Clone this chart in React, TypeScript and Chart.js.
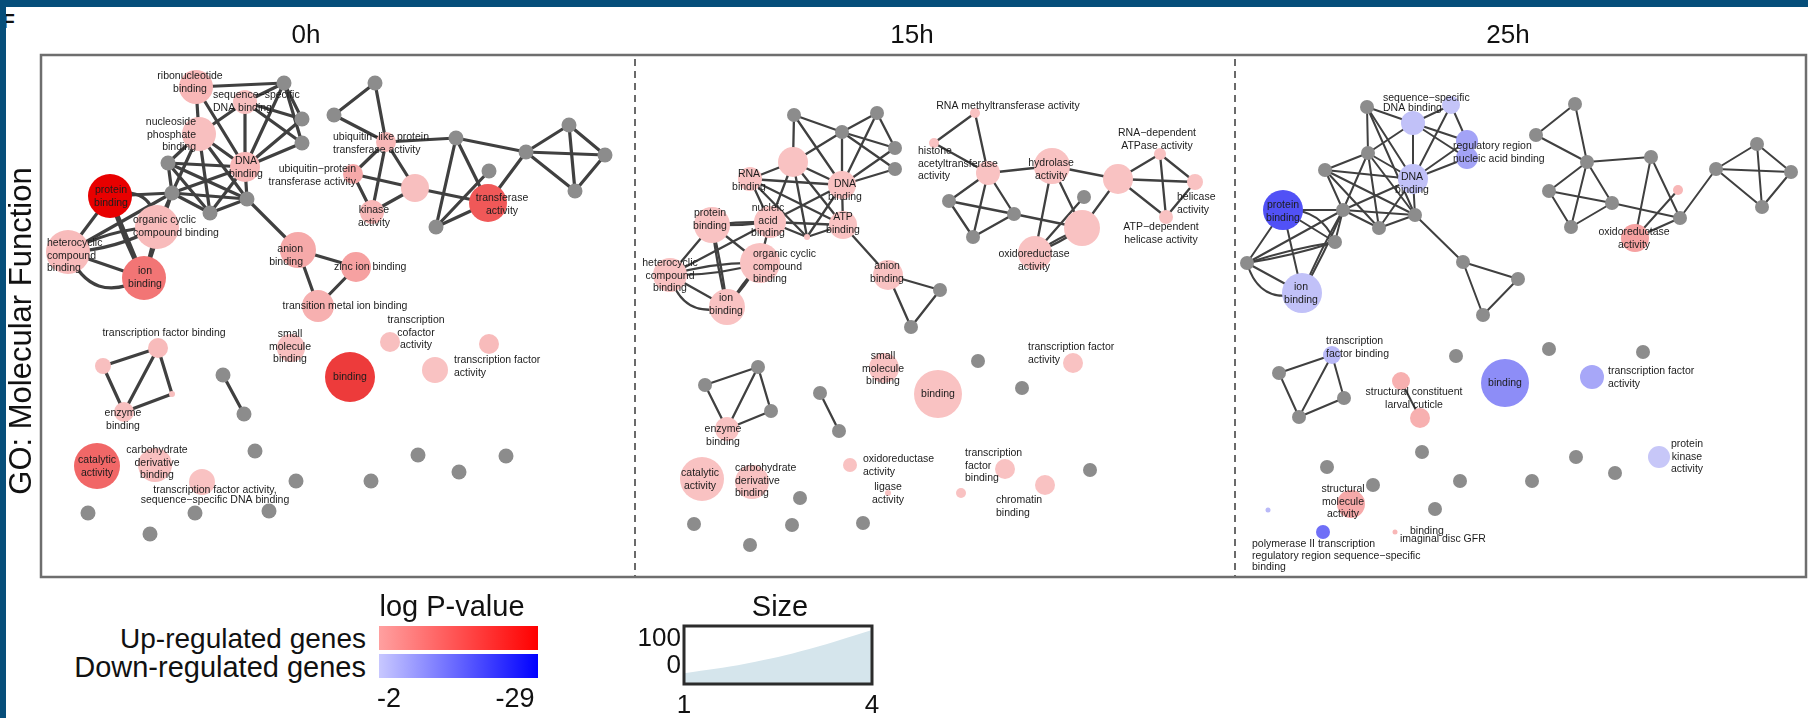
import { useEffect, useRef } from "react";
import { Chart, registerables } from "chart.js";

Chart.register(...registerables);

// ---------------------------------------------------------------------------
// GO: Molecular Function enrichment networks at three time points.
// Node: [id, layout x, layout y, radius (size), signed log P-value]
//   log P > 0 : enriched in up-regulated genes (red scale)
//   log P < 0 : enriched in down-regulated genes (blue scale)
//   log P = 0 : term not enriched at this time point (grey)
// Edge: [from, to, bend]   Label: [x, y, text, align, line height]
// ---------------------------------------------------------------------------

const timePoints = ["0h", "15h", "25h"];

const nodes0h: [string, number, number, number, number][] = [
  ["ribo", 196, 87, 17, 4], ["seq", 245, 102, 12, 3], ["g1", 284, 83, 7.5, 0],
  ["g2", 302, 119, 7.5, 0], ["g3", 302, 143, 7.5, 0], ["nuc", 199, 134, 17, 3],
  ["dna", 245, 167, 15, 4], ["g4", 168, 163, 7.5, 0], ["g5", 172, 193, 7.5, 0],
  ["g6", 210, 213, 7.5, 0], ["g7", 247, 199, 7.5, 0], ["prot", 110, 196, 22, 29],
  ["org", 157, 227, 22, 3.5], ["het", 68, 252, 22, 3.5], ["ion", 144, 278, 22, 13],
  ["anion", 298, 250, 18, 6], ["zinc", 356, 267, 15, 7], ["trans", 318, 306, 16, 5],
  ["g8", 375, 83, 7.5, 0], ["g9", 334, 115, 7.5, 0], ["ubl", 386, 142, 10, 4],
  ["ubp", 353, 174, 10, 6], ["pk", 415, 188, 14, 3], ["kin", 372, 212, 12, 4],
  ["tfr", 488, 203, 19, 17], ["g10", 456, 138, 7.5, 0], ["g11", 436, 227, 7.5, 0],
  ["g12", 489, 171, 7.5, 0], ["g13", 526, 152, 7.5, 0], ["g14", 569, 125, 7.5, 0],
  ["g15", 605, 155, 7.5, 0], ["g16", 575, 191, 7.5, 0],
  ["tfb", 158, 348, 10, 3.5], ["p1", 103, 366, 8, 3], ["enz", 124, 412, 10, 3],
  ["p2", 172, 394, 3, 3], ["g17", 223, 375, 7.5, 0], ["g18", 244, 414, 7.5, 0],
  ["sm", 291, 348, 14, 3], ["bind", 350, 377, 25, 21], ["tcof", 390, 342, 10, 3],
  ["p3", 489, 344, 10, 3.5], ["tfa", 435, 370, 13, 2.5], ["cat", 97, 466, 23, 15],
  ["carb", 155, 465, 17, 3], ["tfas", 202, 482, 13, 2.5],
  ["g19", 255, 451, 7.5, 0], ["g20", 296, 481, 7.5, 0], ["g21", 371, 481, 7.5, 0],
  ["g22", 418, 455, 7.5, 0], ["g23", 459, 472, 7.5, 0], ["g24", 506, 456, 7.5, 0],
  ["g25", 88, 513, 7.5, 0], ["g26", 195, 513, 7.5, 0], ["g27", 269, 511, 7.5, 0],
  ["g28", 150, 534, 7.5, 0],
];

const edges0h: [string, string, number?][] = [
  ["ribo", "g1"], ["seq", "g1"], ["ribo", "nuc"], ["ribo", "dna"], ["seq", "dna"],
  ["seq", "g2"], ["seq", "g3"], ["g1", "g2"], ["g1", "g3"], ["g1", "dna"],
  ["dna", "g2"], ["dna", "g3"], ["nuc", "seq"], ["nuc", "g4"], ["nuc", "g5"],
  ["nuc", "g6"], ["nuc", "g7"], ["nuc", "dna"],
  ["g4", "g5"], ["g4", "g6"], ["g4", "g7"], ["g4", "dna"], ["g5", "g6"], ["g5", "g7"],
  ["g5", "dna"], ["g6", "g7"], ["g6", "dna"], ["g7", "dna"],
  ["prot", "g5"], ["prot", "org", -0.6], ["prot", "het"], ["prot", "ion"], ["prot", "ion", 0.06],
  ["org", "g5"], ["het", "org", 0.12], ["het", "org", -0.12], ["het", "g5"], ["het", "ion"],
  ["het", "ion", 0.55], ["org", "ion"], ["ion", "g5"],
  ["g7", "anion"], ["anion", "zinc"], ["anion", "trans"], ["zinc", "trans"],
  ["g8", "g9"], ["g8", "ubl"], ["g9", "ubl"], ["ubl", "g10"], ["ubl", "ubp"], ["ubl", "kin"],
  ["ubl", "pk"], ["ubp", "kin"], ["ubp", "pk"], ["kin", "pk"], ["pk", "tfr"], ["g10", "g11"],
  ["g10", "tfr"], ["g10", "g13"], ["g11", "g12"], ["g11", "tfr"], ["tfr", "g13"],
  ["g13", "g14"], ["g13", "g15"], ["g13", "g16"], ["g14", "g15"], ["g14", "g16"], ["g15", "g16"],
  ["tfb", "p1"], ["tfb", "enz"], ["tfb", "p2"], ["p1", "enz"], ["enz", "p2"], ["g17", "g18"],
];

const labels0h: [number, number, string, string, number?][] = [
  [190, 76, "ribonucleotide\nbinding", "center"],
  [213, 95, "sequence−specific\nDNA binding", "left"],
  [196, 122, "nucleoside\nphosphate\nbinding", "right"],
  [246, 161, "DNA\nbinding", "center"],
  [111, 190, "protein\nbinding", "center"],
  [133, 220, "organic cyclic\ncompound binding", "left"],
  [47, 243, "heterocyclic\ncompound\nbinding", "left"],
  [145, 271, "ion\nbinding", "center"],
  [303, 249, "anion\nbinding", "right"],
  [334, 267, "zinc ion binding", "left"],
  [345, 306, "transition metal ion binding", "center"],
  [333, 137, "ubiquitin−like protein\ntransferase activity", "left"],
  [356, 169, "ubiquitin−protein\ntransferase activity", "right"],
  [374, 210, "kinase\nactivity", "center"],
  [502, 198, "transferase\nactivity", "center"],
  [164, 333, "transcription factor binding", "center"],
  [123, 413, "enzyme\nbinding", "center"],
  [290, 334, "small\nmolecule\nbinding", "center"],
  [350, 377, "binding", "center"],
  [416, 320, "transcription\ncofactor\nactivity", "center"],
  [454, 360, "transcription factor\nactivity", "left"],
  [97, 460, "catalytic\nactivity", "center"],
  [157, 450, "carbohydrate\nderivative\nbinding", "center"],
  [215, 490, "transcription factor activity,\nsequence−specific DNA binding", "center", 10],
];

const nodes15h: [string, number, number, number, number][] = [
  ["h1", 794, 115, 7, 0], ["h2", 877, 113, 7, 0], ["h3", 842, 132, 7, 0],
  ["h4", 895, 148, 7, 0], ["h5", 895, 169, 7, 0],
  ["bp", 793, 162, 15, 2.5], ["rna", 750, 179, 12, 2.5], ["dna", 842, 185, 14, 2.5],
  ["nuc", 770, 222, 16, 2.5], ["atp", 843, 225, 14, 2.5], ["tiny", 807, 237, 3, 2.5],
  ["prot", 712, 225, 18, 2.5], ["org", 760, 263, 20, 2.5], ["het", 670, 275, 17, 2.5],
  ["ion", 727, 307, 18, 2.5], ["anion", 888, 275, 15, 2.5], ["h6", 940, 290, 7, 0],
  ["h7", 911, 327, 7, 0],
  ["rm", 975, 113, 5, 2.5], ["hist", 934, 143, 5, 2.5], ["p1", 988, 173, 12, 2.5],
  ["hyd", 1052, 166, 18, 2.5], ["bp2", 1118, 179, 15, 2.5], ["rdep", 1160, 154, 6, 2.5],
  ["hel", 1195, 182, 8, 2.5], ["adep", 1166, 217, 7, 2.5], ["i9", 949, 201, 7, 0],
  ["i10", 1014, 214, 7, 0], ["i11", 973, 237, 7, 0], ["i12", 1084, 197, 7, 0],
  ["bp3", 1082, 228, 18, 2.5], ["oxi", 1035, 253, 17, 2.5],
  ["sm", 884, 368, 15, 2.5], ["bind", 938, 394, 24, 2.5], ["j3", 978, 361, 7, 0],
  ["tfa", 1073, 363, 10, 2.5], ["j5", 1022, 388, 7, 0], ["j6", 758, 367, 7, 0],
  ["j7", 705, 385, 7, 0], ["j8", 771, 411, 7, 0], ["enz", 727, 429, 12, 2.5],
  ["j10", 820, 393, 7, 0], ["j11", 839, 431, 7, 0], ["cat", 702, 479, 22, 2.5],
  ["carb", 752, 482, 17, 2.5], ["j14", 800, 498, 7, 0], ["oxi2", 850, 465, 7, 2.5],
  ["lig", 888, 493, 3, 2.5], ["tiny2", 961, 493, 5, 2.5], ["tfb", 1005, 469, 10, 2.5],
  ["chr", 1045, 485, 10, 2.5], ["j20", 1090, 470, 7, 0], ["j21", 694, 524, 7, 0],
  ["j22", 792, 525, 7, 0], ["j23", 863, 523, 7, 0], ["j24", 750, 545, 7, 0],
];

const edges15h: [string, string, number?][] = [
  ["h1", "bp"], ["h1", "h3"], ["h1", "dna"], ["h2", "h3"], ["h2", "h4"], ["h2", "dna"],
  ["h3", "h4"], ["h3", "h5"], ["h3", "dna"], ["h3", "bp"], ["h4", "dna"], ["h5", "dna"],
  ["bp", "rna"], ["bp", "dna"], ["bp", "nuc"], ["bp", "atp"], ["bp", "tiny"],
  ["rna", "dna"], ["rna", "nuc"], ["rna", "atp"], ["rna", "tiny"], ["dna", "nuc"],
  ["dna", "atp"], ["dna", "tiny"], ["nuc", "atp"], ["nuc", "tiny"], ["atp", "tiny"],
  ["prot", "nuc", 0.04], ["prot", "nuc", -0.04], ["prot", "het"], ["prot", "ion", 0.03],
  ["prot", "ion", -0.03], ["prot", "org"], ["nuc", "org"], ["nuc", "het"],
  ["het", "org", 0.08], ["het", "org", -0.08], ["het", "ion"], ["het", "ion", 0.5],
  ["org", "ion", 0.03], ["org", "ion", -0.03], ["atp", "anion"], ["anion", "h6"],
  ["anion", "h7"], ["h6", "h7"],
  ["rm", "hist"], ["rm", "p1"], ["hist", "p1"], ["p1", "hyd"], ["p1", "i9"], ["p1", "i11"],
  ["p1", "i10"], ["i9", "i11"], ["i9", "i10"], ["i10", "i11"], ["i10", "bp3"], ["hyd", "oxi"],
  ["hyd", "bp3"], ["hyd", "bp2"], ["i12", "oxi"], ["bp3", "oxi", 0.05], ["bp3", "oxi", -0.05],
  ["bp2", "bp3"], ["bp2", "rdep"], ["bp2", "hel"], ["bp2", "adep"], ["rdep", "hel"],
  ["rdep", "adep"], ["hel", "adep"],
  ["j6", "j7"], ["j6", "enz"], ["j6", "j8"], ["j7", "enz"], ["enz", "j8"], ["j10", "j11"],
];

const labels15h: [number, number, string, string, number?][] = [
  [749, 174, "RNA\nbinding", "center"],
  [845, 184, "DNA\nbinding", "center"],
  [768, 208, "nucleic\nacid\nbinding", "center"],
  [843, 217, "ATP\nbinding", "center"],
  [710, 213, "protein\nbinding", "center"],
  [753, 254, "organic cyclic\ncompound\nbinding", "left"],
  [670, 263, "heterocyclic\ncompound\nbinding", "center"],
  [726, 298, "ion\nbinding", "center"],
  [887, 266, "anion\nbinding", "center"],
  [1008, 106, "RNA methyltransferase activity", "center"],
  [918, 151, "histone\nacetyltransferase\nactivity", "left"],
  [1051, 163, "hydrolase\nactivity", "center"],
  [1157, 133, "RNA−dependent\nATPase activity", "center"],
  [1177, 197, "helicase\nactivity", "left"],
  [1161, 227, "ATP−dependent\nhelicase activity", "center"],
  [1034, 254, "oxidoreductase\nactivity", "center"],
  [883, 356, "small\nmolecule\nbinding", "center"],
  [938, 394, "binding", "center"],
  [1028, 347, "transcription factor\nactivity", "left"],
  [723, 429, "enzyme\nbinding", "center"],
  [700, 473, "catalytic\nactivity", "center"],
  [735, 468, "carbohydrate\nderivative\nbinding", "left"],
  [863, 459, "oxidoreductase\nactivity", "left"],
  [888, 487, "ligase\nactivity", "center"],
  [965, 453, "transcription\nfactor\nbinding", "left"],
  [996, 500, "chromatin\nbinding", "left"],
];

const nodes25h: [string, number, number, number, number][] = [
  ["k1", 1367, 107, 7, 0], ["seq", 1451, 105, 9, -2.5], ["lav", 1413, 123, 12, -3],
  ["reg1", 1467, 141, 11, -7], ["reg2", 1467, 158, 11, -7], ["k6", 1368, 153, 7, 0],
  ["k7", 1325, 170, 7, 0], ["dna", 1413, 179, 15, -3], ["prot", 1283, 210, 20, -18],
  ["k10", 1343, 210, 7, 0], ["k11", 1379, 228, 7, 0], ["k12", 1415, 215, 7, 0],
  ["k13", 1335, 242, 7, 0], ["k14", 1247, 263, 7, 0], ["ion", 1302, 293, 20, -3],
  ["k16", 1463, 262, 7, 0], ["k17", 1518, 279, 7, 0], ["k18", 1483, 315, 7, 0],
  ["m1", 1575, 104, 7, 0], ["m2", 1536, 135, 7, 0], ["m3", 1587, 162, 7, 0],
  ["m4", 1651, 157, 7, 0], ["m5", 1549, 191, 7, 0], ["m6", 1612, 203, 7, 0],
  ["m7", 1571, 227, 7, 0], ["m8", 1678, 190, 5, 4], ["m9", 1680, 218, 7, 0],
  ["oxi", 1635, 238, 14, 7], ["m11", 1716, 169, 7, 0], ["m12", 1757, 144, 7, 0],
  ["m13", 1791, 172, 7, 0], ["m14", 1762, 207, 7, 0],
  ["tfb", 1332, 355, 9, -4], ["n2", 1279, 373, 7, 0], ["n3", 1344, 398, 7, 0],
  ["n4", 1299, 417, 7, 0], ["sc1", 1401, 381, 9, 5], ["sc2", 1420, 418, 10, 5],
  ["n7", 1456, 356, 7, 0], ["bind", 1505, 383, 24, -10], ["n9", 1549, 349, 7, 0],
  ["n10", 1643, 352, 7, 0], ["tfa", 1592, 377, 12, -6.5], ["n12", 1422, 452, 7, 0],
  ["n13", 1576, 457, 7, 0], ["n14", 1615, 473, 7, 0], ["pka", 1659, 457, 11, -2.2],
  ["n16", 1327, 467, 7, 0], ["n17", 1373, 485, 7, 0], ["n18", 1460, 481, 7, 0],
  ["n19", 1532, 481, 7, 0], ["smol", 1351, 504, 14, 6], ["n21", 1435, 509, 7, 0],
  ["tl", 1268, 510, 2.5, -4], ["pol", 1323, 532, 7, -14], ["tp", 1395, 532, 2.5, 4],
];

const edges25h: [string, string, number?][] = [
  ["k1", "lav"], ["k1", "k6"], ["k1", "dna"], ["k1", "k12"], ["lav", "seq"], ["lav", "k6"],
  ["lav", "dna"], ["lav", "reg1"], ["lav", "reg2"], ["seq", "reg1"], ["seq", "dna"],
  ["reg1", "dna"], ["reg2", "dna"], ["k6", "k7"], ["k6", "dna"], ["k6", "k10"], ["k6", "k11"],
  ["k6", "k12"], ["k7", "dna"], ["k7", "k10"], ["k7", "k11"], ["k7", "k12"], ["dna", "k10"],
  ["dna", "k11"], ["dna", "k12"], ["k10", "k11"], ["k10", "k12"], ["k11", "k12"],
  ["prot", "k10"], ["prot", "k13", -0.35], ["prot", "k14"], ["prot", "ion"], ["prot", "k13"],
  ["k10", "k13"], ["k10", "k14"], ["k10", "ion", 0.03], ["k10", "ion", -0.03],
  ["k14", "k13", 0.04], ["k14", "k13", -0.04], ["k14", "ion"], ["k14", "ion", 0.5],
  ["k12", "k16"], ["k16", "k17"], ["k16", "k18"], ["k17", "k18"],
  ["m1", "m2"], ["m1", "m3"], ["m2", "m3"], ["m3", "m4"], ["m3", "m5"], ["m3", "m6"],
  ["m3", "m7"], ["m5", "m7"], ["m6", "m7"], ["m5", "m6"], ["m6", "m9"], ["m4", "oxi"],
  ["m4", "m9"], ["m8", "oxi"], ["oxi", "m9"], ["m9", "m11"], ["m11", "m12"], ["m11", "m13"],
  ["m11", "m14"], ["m12", "m13"], ["m12", "m14"], ["m13", "m14"],
  ["tfb", "n2"], ["tfb", "n3"], ["tfb", "n4"], ["n2", "n4"], ["n4", "n3"], ["sc1", "sc2"],
];

const labels25h: [number, number, string, string, number?][] = [
  [1383, 98, "sequence−specific\nDNA binding", "left", 10.5],
  [1453, 146, "regulatory region\nnucleic acid binding", "left"],
  [1412, 177, "DNA\nbinding", "center"],
  [1283, 205, "protein\nbinding", "center"],
  [1301, 287, "ion\nbinding", "center"],
  [1634, 232, "oxidoreductase\nactivity", "center"],
  [1326, 341, "transcription\nfactor binding", "left"],
  [1414, 392, "structural constituent\nlarval cuticle", "center"],
  [1505, 383, "binding", "center"],
  [1608, 371, "transcription factor\nactivity", "left"],
  [1687, 444, "protein\nkinase\nactivity", "center"],
  [1343, 489, "structural\nmolecule\nactivity", "center"],
  [1410, 531, "binding", "left"],
  [1400, 539, "imaginal disc GFR", "left"],
  [1252, 544, "polymerase II transcription\nregulatory region sequence−specific\nbinding", "left", 11.8],
];

// Legend values
const logPRange = ["-2", "-29"];
const sizeTicksX = [1, 4];
const sizeTicksY = [0, 100];
const sizeCurveX = [1, 2, 3, 4];
const sizeCurveY = [-29, 8, 63, 135];

// ---------------------------------------------------------------------------

const FONT = "'Liberation Sans', Arial, Helvetica, sans-serif";

function nodeColor(logP: number): string {
  if (logP === 0) return "#8c8c8c";
  const t = Math.min(1, Math.max(0, (Math.abs(logP) - 2) / 27));
  const mix = (a: number, b: number) => Math.round(a + (b - a) * t);
  if (logP > 0) return `rgb(${mix(249, 232)},${mix(198, 0)},${mix(198, 0)})`;
  return `rgb(${mix(200, 0)},${mix(200, 0)},${mix(248, 245)})`;
}

const panels = [
  { name: timePoints[0], nodes: nodes0h, edges: edges0h, labels: labels0h, edgeWidth: 3.2, range: [41, 635], titleX: 306 },
  { name: timePoints[1], nodes: nodes15h, edges: edges15h, labels: labels15h, edgeWidth: 2.3, range: [635, 1235], titleX: 912 },
  { name: timePoints[2], nodes: nodes25h, edges: edges25h, labels: labels25h, edgeWidth: 2.0, range: [1235, 1806], titleX: 1508 },
];

function NetworkChart() {
  const ref = useRef<HTMLCanvasElement>(null);
  useEffect(() => {
    const canvas = ref.current;
    if (!canvas) return;
    const lookup = panels.map((p) => new Map(p.nodes.map((n) => [n[0], n])));

    const networkPlugin = {
      id: "network",
      beforeDatasetsDraw(chart: any) {
        const { ctx, scales } = chart;
        const xs = scales.x, ys = scales.y;
        ctx.save();
        ctx.strokeStyle = "#404040";
        ctx.lineCap = "round";
        panels.forEach((p, i) => {
          ctx.lineWidth = p.edgeWidth;
          for (const [a, b, bend] of p.edges) {
            const na = lookup[i].get(a), nb = lookup[i].get(b);
            if (!na || !nb) continue;
            const x1 = xs.getPixelForValue(na[1]), y1 = ys.getPixelForValue(na[2]);
            const x2 = xs.getPixelForValue(nb[1]), y2 = ys.getPixelForValue(nb[2]);
            ctx.beginPath();
            ctx.moveTo(x1, y1);
            if (bend) {
              const mx = (x1 + x2) / 2, my = (y1 + y2) / 2;
              ctx.quadraticCurveTo(mx - (y2 - y1) * bend, my + (x2 - x1) * bend, x2, y2);
            } else {
              ctx.lineTo(x2, y2);
            }
            ctx.stroke();
          }
        });
        ctx.restore();
      },
      afterDatasetsDraw(chart: any) {
        const { ctx, scales } = chart;
        ctx.save();
        ctx.fillStyle = "#1c1c1c";
        ctx.font = `10.5px ${FONT}`;
        ctx.textBaseline = "middle";
        for (const p of panels) {
          for (const [lx, ly, text, align, lh] of p.labels) {
            ctx.textAlign = align as CanvasTextAlign;
            const px = scales.x.getPixelForValue(lx);
            const py = scales.y.getPixelForValue(ly);
            text.split("\n").forEach((line, k) => ctx.fillText(line, px, py + k * (lh || 12.7)));
          }
        }
        ctx.restore();
      },
      afterDraw(chart: any) {
        const { ctx, chartArea, scales } = chart;
        ctx.save();
        // panel dividers
        ctx.strokeStyle = "#6a6a6a";
        ctx.lineWidth = 2;
        ctx.setLineDash([7, 5]);
        panels.slice(1).forEach((p) => {
          const x = Math.round(scales.x.getPixelForValue(p.range[0]));
          ctx.beginPath();
          ctx.moveTo(x, chartArea.top + 4);
          ctx.lineTo(x, chartArea.bottom);
          ctx.stroke();
        });
        ctx.setLineDash([]);
        // frame
        ctx.strokeStyle = "#6e6e6e";
        ctx.lineWidth = 2.5;
        ctx.strokeRect(chartArea.left, chartArea.top, chartArea.right - chartArea.left, chartArea.bottom - chartArea.top);
        // time point titles
        ctx.fillStyle = "#111";
        ctx.font = `26px ${FONT}`;
        ctx.textAlign = "center";
        ctx.textBaseline = "middle";
        panels.forEach((p) => ctx.fillText(p.name, scales.x.getPixelForValue(p.titleX), chartArea.top - 19));
        // row label
        ctx.font = `31px ${FONT}`;
        ctx.translate(22, (chartArea.top + chartArea.bottom) / 2 + 15);
        ctx.rotate(-Math.PI / 2);
        ctx.fillText("GO: Molecular Function", 0, 0);
        ctx.restore();
      },
    };

    const chart = new Chart(canvas, {
      type: "bubble",
      data: {
        datasets: panels.map((p) => ({
          label: p.name,
          data: p.nodes.map((n) => ({ x: n[1], y: n[2], r: n[3] })),
          backgroundColor: p.nodes.map((n) => nodeColor(n[4])),
          borderWidth: 0,
          hoverRadius: 0,
        })),
      },
      options: {
        animation: false,
        responsive: false,
        devicePixelRatio: 1,
        events: [],
        layout: { autoPadding: false, padding: { left: 41, top: 55, right: 2, bottom: 23 } },
        plugins: { legend: { display: false }, tooltip: { enabled: false } },
        scales: {
          x: { type: "linear", min: 41, max: 1806, display: false },
          y: { type: "linear", min: 55, max: 577, reverse: true, display: false },
        },
      },
      plugins: [networkPlugin],
    } as any);
    return () => chart.destroy();
  }, []);
  return <canvas ref={ref} width={1808} height={600} style={{ position: "absolute", left: 0, top: 0, width: 1808, height: 600 }} />;
}

function SizeLegend() {
  const ref = useRef<HTMLCanvasElement>(null);
  useEffect(() => {
    const canvas = ref.current;
    if (!canvas) return;
    const framePlugin = {
      id: "frame",
      afterDraw(chart: any) {
        const { ctx, chartArea } = chart;
        ctx.save();
        ctx.strokeStyle = "#2b2b2b";
        ctx.lineWidth = 3;
        ctx.strokeRect(chartArea.left, chartArea.top, chartArea.right - chartArea.left, chartArea.bottom - chartArea.top);
        ctx.restore();
      },
    };
    const tickFont = { family: FONT, size: 26 };
    const chart = new Chart(canvas, {
      type: "line",
      data: {
        datasets: [
          {
            data: sizeCurveX.map((x, i) => ({ x, y: sizeCurveY[i] })),
            fill: "start",
            backgroundColor: "#d5e5ec",
            borderWidth: 0,
            pointRadius: 0,
            tension: 0.4,
          },
        ],
      },
      options: {
        animation: false,
        responsive: false,
        devicePixelRatio: 1,
        events: [],
        layout: { autoPadding: false, padding: { left: 4, right: 18, top: 36, bottom: 0 } },
        plugins: { legend: { display: false }, tooltip: { enabled: false } },
        scales: {
          x: {
            type: "linear",
            min: sizeTicksX[0],
            max: sizeTicksX[1],
            afterBuildTicks: (s: any) => { s.ticks = sizeTicksX.map((value) => ({ value })); },
            afterFit: (s: any) => { s.height = 34; },
            ticks: { font: tickFont, color: "#111", padding: 6 },
            grid: { display: false, drawTicks: false },
            border: { display: false },
          },
          y: {
            type: "linear",
            min: -70,
            max: 150,
            afterBuildTicks: (s: any) => { s.ticks = sizeTicksY.map((value) => ({ value })); },
            afterFit: (s: any) => { s.width = 50; },
            ticks: { font: tickFont, color: "#111", padding: 3 },
            grid: { display: false, drawTicks: false },
            border: { display: false },
          },
        },
      },
      plugins: [framePlugin],
    } as any);
    return () => chart.destroy();
  }, []);
  return <canvas ref={ref} width={260} height={128} style={{ position: "absolute", left: 630, top: 590, width: 260, height: 128 }} />;
}

function Txt({ x, y, align = "center", size = 29, children }: any) {
  const tx = align === "center" ? "-50%" : align === "right" ? "-100%" : "0";
  return (
    <div
      style={{
        position: "absolute",
        left: x,
        top: y,
        transform: `translate(${tx}, -50%)`,
        fontSize: size,
        lineHeight: 1,
        whiteSpace: "nowrap",
        color: "#111",
        fontFamily: FONT,
      }}
    >
      {children}
    </div>
  );
}

export default function App() {
  return (
    <div style={{ position: "fixed", left: 0, top: 0, width: 1808, height: 718, background: "#fff", overflow: "hidden", fontFamily: FONT }}>
      <div style={{ position: "absolute", left: 2, top: 10, fontSize: 21, fontWeight: "bold", lineHeight: "21px", color: "#111" }}>F</div>
      <NetworkChart />
      <SizeLegend />
      <Txt x={452} y={606}>log P-value</Txt>
      <Txt x={366} y={639} align="right" size={28}>Up-regulated genes</Txt>
      <Txt x={366} y={667} align="right">Down-regulated genes</Txt>
      <div style={{ position: "absolute", left: 379, top: 626, width: 159, height: 24, background: "linear-gradient(to right, #ffa0a0, #ff0000)" }} />
      <div style={{ position: "absolute", left: 379, top: 654, width: 159, height: 24, background: "linear-gradient(to right, #c8c8ff, #0000ff)" }} />
      <Txt x={389} y={698} size={27}>{logPRange[0]}</Txt>
      <Txt x={515} y={698} size={27}>{logPRange[1]}</Txt>
      <Txt x={780} y={606}>Size</Txt>
      <div style={{ position: "absolute", left: 0, top: 0, width: 1808, height: 7, background: "#064e7a" }} />
      <div style={{ position: "absolute", left: 0, top: 0, width: 6, height: 718, background: "#064e7a" }} />
    </div>
  );
}
